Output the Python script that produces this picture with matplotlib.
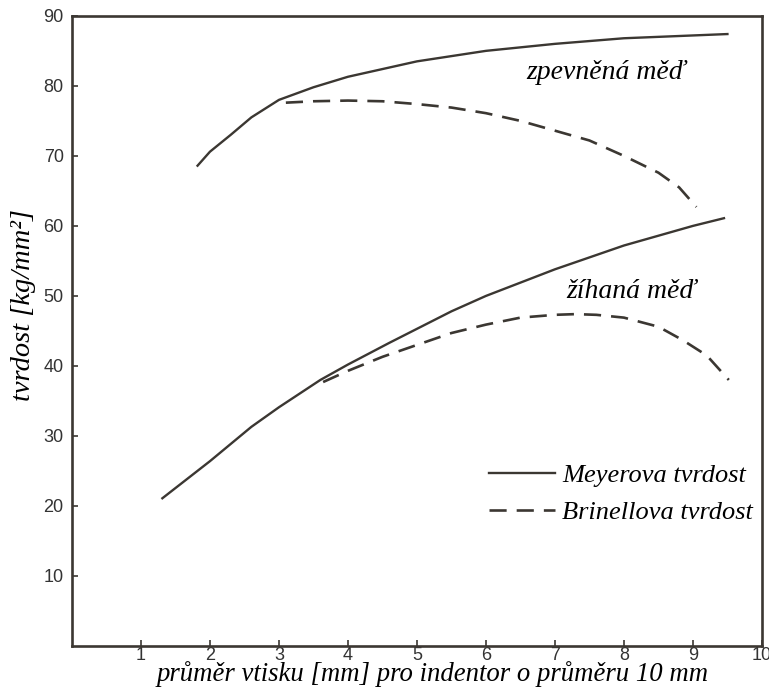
import matplotlib.pyplot as plt

# data
# zpevnena med (work hardened copper)
x_mey_hard = [1.82, 2.0, 2.3, 2.6, 3.0, 3.5, 4.0, 5.0, 6.0, 7.0, 8.0, 9.0, 9.5]
y_mey_hard = [68.6, 70.6, 73.0, 75.5, 78.0, 79.8, 81.3, 83.5, 85.0, 86.0, 86.8, 87.2, 87.4]
x_bri_hard = [3.1, 3.5, 4.0, 4.5, 5.0, 5.5, 6.0, 6.5, 7.0, 7.5, 8.0, 8.5, 8.8, 9.05]
y_bri_hard = [77.6, 77.8, 77.9, 77.8, 77.4, 76.9, 76.1, 75.0, 73.6, 72.2, 70.0, 67.6, 65.5, 62.7]

# zihana med (annealed copper)
x_mey_ann = [1.31, 2.0, 2.6, 3.0, 3.6, 4.0, 4.6, 5.0, 5.5, 6.0, 7.0, 8.0, 9.0, 9.45]
y_mey_ann = [21.1, 26.4, 31.3, 34.1, 38.0, 40.2, 43.3, 45.3, 47.8, 50.0, 53.8, 57.2, 60.0, 61.1]
x_bri_ann = [3.64, 4.0, 4.5, 5.0, 5.5, 6.0, 6.5, 7.0, 7.3, 7.6, 8.0, 8.5, 8.85, 9.2, 9.52]
y_bri_ann = [37.7, 39.3, 41.3, 43.0, 44.7, 45.9, 46.9, 47.3, 47.4, 47.3, 46.9, 45.6, 43.7, 41.5, 38.0]

xticks = [1, 2, 3, 4, 5, 6, 7, 8, 9, 10]
yticks = [10, 20, 30, 40, 50, 60, 70, 80, 90]

ink = '#3b3732'
serif = ['Liberation Serif', 'DejaVu Serif']
dash = (6.5, 3.8)

fig = plt.figure(figsize=(7.69, 6.89), dpi=100)
ax = fig.add_axes([0.0936, 0.0624, 0.8972, 0.9146])

ax.plot(x_mey_hard, y_mey_hard, color=ink, lw=1.7, label='Meyerova tvrdost')
ax.plot(x_bri_hard, y_bri_hard, color=ink, lw=1.9, dashes=dash, label='Brinellova tvrdost')
ax.plot(x_mey_ann, y_mey_ann, color=ink, lw=1.7)
ax.plot(x_bri_ann, y_bri_ann, color=ink, lw=1.9, dashes=dash)

ax.set_xlim(0, 10)
ax.set_ylim(0, 90)
ax.set_xticks(xticks)
ax.set_yticks(yticks)
ax.tick_params(direction='in', length=4, width=1.2, color=ink, labelsize=13)
ax.tick_params(axis='y', pad=6)
ax.tick_params(axis='x', pad=0.5)
for lab in ax.get_xticklabels() + ax.get_yticklabels():
    lab.set_fontfamily('Liberation Sans')
    lab.set_color('#333333')
for s in ax.spines.values():
    s.set_linewidth(1.9)
    s.set_color(ink)

ax.text(6.59, 81.9, 'zpevněná měď', family=serif, style='italic', fontsize=20,
        ha='left', va='center')
ax.text(7.17, 50.6, 'žíhaná měď', family=serif, style='italic', fontsize=20,
        ha='left', va='center')

leg = ax.legend(loc='upper left', bbox_to_anchor=(0.57, 0.327), frameon=False,
                handlelength=2.5, handletextpad=0.27, labelspacing=0.52,
                prop={'family': serif, 'style': 'italic', 'size': 19})

fig.text(0.562, 0.011, 'průměr vtisku [mm] pro indentor o průměru 10 mm',
         family=serif, style='italic', fontsize=19.3, ha='center', va='baseline')
fig.text(0.030, 0.557, 'tvrdost [kg/mm²]', family=serif, style='italic',
         fontsize=20.5, rotation=90, ha='center', va='center')

fig.savefig('out.png', dpi=100)
